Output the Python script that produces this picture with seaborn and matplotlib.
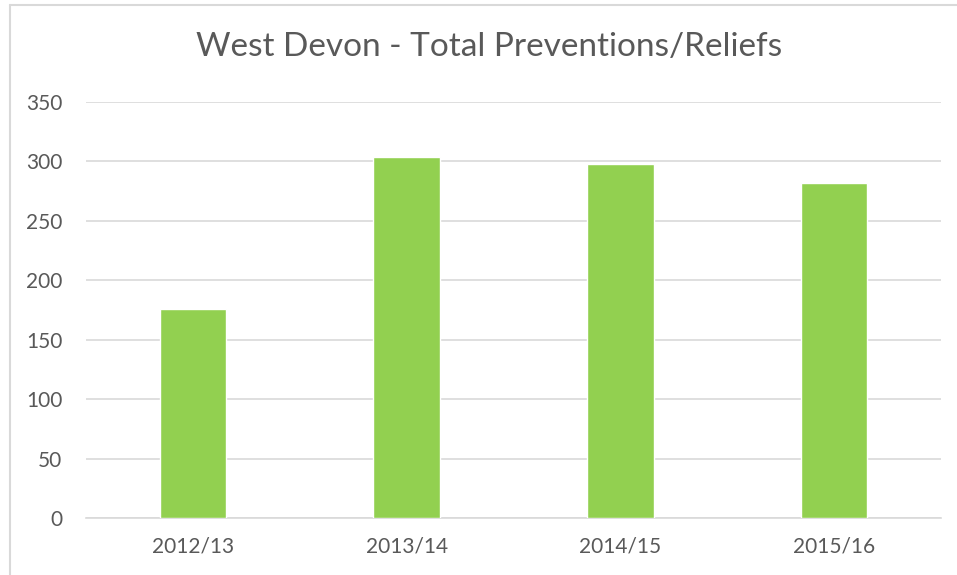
import pandas as pd
import matplotlib
matplotlib.use("Agg")
import matplotlib.pyplot as plt
import seaborn as sns

# ----------------------------
# Data
# ----------------------------
years = ["2012/13", "2013/14", "2014/15", "2015/16"]
totals = [176, 304, 298, 282]

df = pd.DataFrame({"Year": years, "Total": totals})

# ----------------------------
# Style
# ----------------------------
sns.set_style("white")
plt.rcParams["font.family"] = ["Lato", "DejaVu Sans"]
text_col = "#595959"
grid_col = "#D9D9D9"

fig = plt.figure(figsize=(9.57, 5.75), dpi=100)
ax = fig.add_axes([86 / 957, 57 / 575, (941 - 86) / 957, (518 - 102) / 575])

sns.barplot(data=df, x="Year", y="Total", color="#92D050", saturation=1,
            width=0.31, ax=ax, zorder=3)

ax.set_ylim(0, 350)
ax.set_xlim(-0.5, 3.5)
ax.set_yticks(range(0, 351, 50))
ax.yaxis.grid(True, color=grid_col, linewidth=1.2, zorder=0)
ax.set_axisbelow(True)
for s in ["top", "right", "left"]:
    ax.spines[s].set_visible(False)
ax.spines["bottom"].set_color(grid_col)
ax.spines["bottom"].set_linewidth(1.2)
ax.tick_params(axis="both", length=0, labelsize=15, labelcolor=text_col)
ax.tick_params(axis="y", pad=17)
ax.tick_params(axis="x", pad=13)
ax.set_xlabel("")
ax.set_ylabel("")

fig.text(489 / 957, 1 - 47 / 575, "West Devon - Total Preventions/Reliefs",
         ha="center", va="center", fontsize=24, color=text_col)

# chart border (left and top edges visible)
fig.add_artist(plt.Line2D([9.5 / 957, 9.5 / 957], [0, 1 - 4.5 / 575],
                          transform=fig.transFigure, color=grid_col, linewidth=1.5))
fig.add_artist(plt.Line2D([9.5 / 957, 1], [1 - 4.5 / 575, 1 - 4.5 / 575],
                          transform=fig.transFigure, color=grid_col, linewidth=1.5))

fig.savefig("out.png", dpi=100, facecolor="white")
